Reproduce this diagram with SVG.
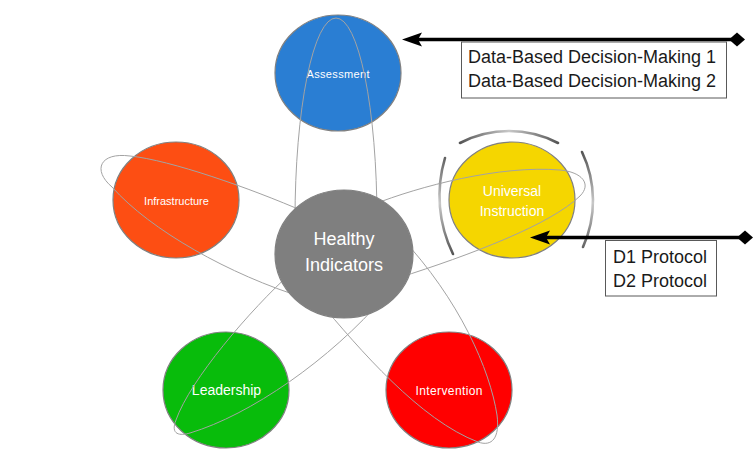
<svg xmlns="http://www.w3.org/2000/svg" width="755" height="454" viewBox="0 0 755 454">
<style>
.node{stroke:#808080;stroke-width:1.2}
.lbl{font-family:"Liberation Sans",Arial,sans-serif;fill:#ffffff;text-anchor:middle}
.loop{fill:none;stroke:#a3a3a3;stroke-width:1}
.cyc{fill:none;stroke-width:2.6;stroke-linecap:round}
.arrow{stroke:#000;stroke-width:3.5;fill:none;marker-start:url(#diamond);marker-end:url(#head)}
.box{fill:#fff;stroke:#595959;stroke-width:1}
.btxt{font-family:"Liberation Sans",Arial,sans-serif;font-size:18px;fill:#1a1a1a}
</style>
<defs>
<marker id="head" markerUnits="userSpaceOnUse" orient="auto" overflow="visible" refX="0" refY="0" markerWidth="1" markerHeight="1">
<path d="M16,0 L-4,-7 L0,0 L-4,7 Z" fill="#000"/>
</marker>
<marker id="diamond" markerUnits="userSpaceOnUse" orient="auto" overflow="visible" refX="0" refY="0" markerWidth="1" markerHeight="1">
<path d="M-8,0 L0,-7 L8,0 L0,7 Z" fill="#000"/>
</marker>
<linearGradient id="gh" gradientUnits="userSpaceOnUse" x1="460" y1="0" x2="558" y2="0">
<stop offset="0" stop-color="#555"/><stop offset="0.5" stop-color="#c8c8c8"/><stop offset="1" stop-color="#555"/>
</linearGradient>
<linearGradient id="gv" gradientUnits="userSpaceOnUse" x1="0" y1="152" x2="0" y2="254">
<stop offset="0" stop-color="#555"/><stop offset="0.5" stop-color="#c8c8c8"/><stop offset="1" stop-color="#555"/>
</linearGradient>
</defs>

<g id="node-assessment">
<ellipse class="node" cx="338" cy="73" rx="63" ry="58" fill="#2a7ed3"/>
<text class="lbl" x="338" y="77.5" font-size="11" textLength="63">Assessment</text>
</g>
<g id="node-infrastructure">
<ellipse class="node" cx="176" cy="200" rx="63" ry="58" fill="#fd4e13"/>
<text class="lbl" x="176.5" y="205" font-size="11">Infrastructure</text>
</g>
<g id="node-universal">
<ellipse class="node" cx="512" cy="200" rx="63" ry="58" fill="#f5d600"/>
<text class="lbl" x="512" y="196" font-size="14">Universal</text>
<text class="lbl" x="512" y="216" font-size="14">Instruction</text>
</g>
<g id="node-leadership">
<ellipse class="node" cx="226" cy="390" rx="63" ry="58" fill="#08bc0b"/>
<text class="lbl" x="226.5" y="395" font-size="14">Leadership</text>
</g>
<g id="node-intervention">
<ellipse class="node" cx="449" cy="390" rx="63" ry="58" fill="#ff0000"/>
<text class="lbl" x="449" y="395" font-size="12" textLength="67">Intervention</text>
</g>

<g id="connectors">
<path class="loop" d="M295,220 A41,202 0 0 1 377,220"/>
<path class="loop" d="M305,212 C250,188 170,160 130,156 C100,152 92,170 112,187 C150,230 230,275 305,298"/>
<path class="loop" d="M372,205 C420,186 500,165 560,170 C582,172 592,184 580,196 C550,225 470,255 398,278"/>
<path class="loop" d="M292,272 C250,310 190,380 176,420 C170,435 180,436 190,433 C250,415 330,360 385,296"/>
<path class="loop" d="M318,300 C360,350 420,420 478,442 C492,447 500,438 497,415 C490,370 460,300 400,236"/>
<path class="cyc" stroke="url(#gh)" d="M460,143 A106,106 0 0 1 558,143"/>
<path class="cyc" stroke="url(#gv)" d="M445,158 A132,132 0 0 0 453,254"/>
<path class="cyc" stroke="url(#gv)" d="M582,152 A113,113 0 0 1 583,247"/>
<path class="arrow" d="M737,39.5 L418,39.5"/>
<path class="arrow" d="M745,237.5 L546,237.5"/>
</g>

<g id="node-healthy">
<ellipse class="node" cx="344" cy="254" rx="69" ry="64" fill="#7f7f7f"/>
<text class="lbl" x="344" y="245" font-size="18" fill="#f2f2f2">Healthy</text>
<text class="lbl" x="344" y="271" font-size="18" fill="#f2f2f2">Indicators</text>
</g>

<g id="note-dbdm">
<rect class="box" x="461.5" y="42" width="265" height="56"/>
<text class="btxt" x="468" y="63">Data-Based Decision-Making 1</text>
<text class="btxt" x="468" y="87">Data-Based Decision-Making 2</text>
</g>
<g id="note-protocol">
<rect class="box" x="605.5" y="240.5" width="111" height="55.5"/>
<text class="btxt" x="613" y="263">D1 Protocol</text>
<text class="btxt" x="613" y="287">D2 Protocol</text>
</g>
</svg>
